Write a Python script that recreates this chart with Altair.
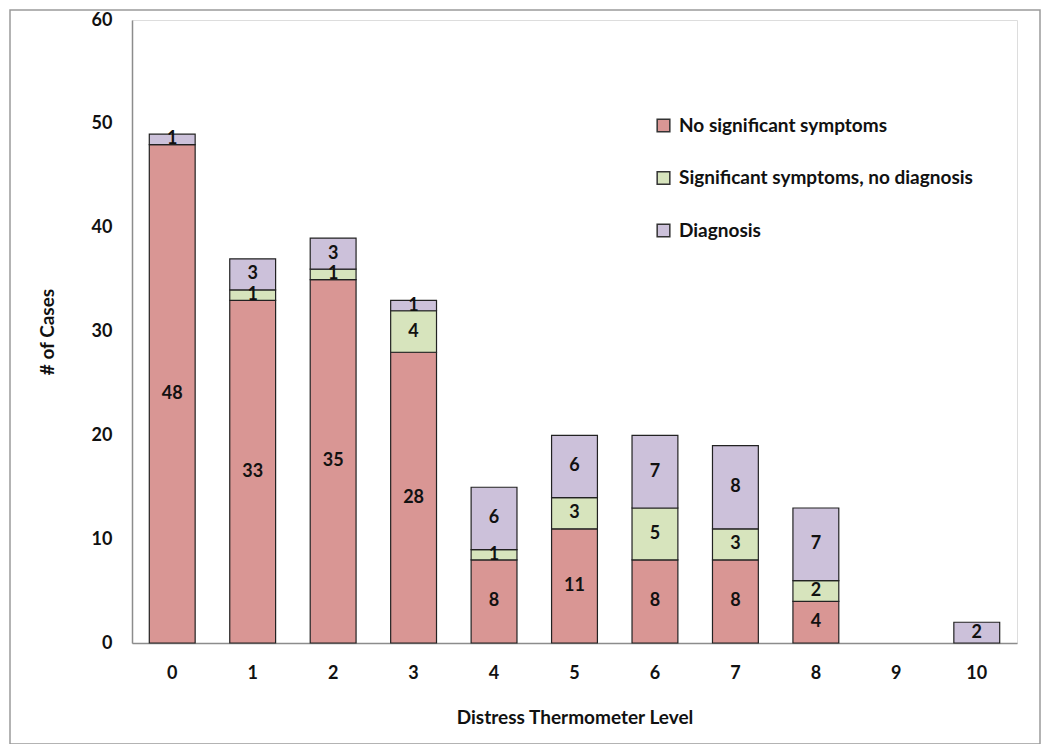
import altair as alt
import pandas as pd

levels = ["0", "1", "2", "3", "4", "5", "6", "7", "8", "9", "10"]
no_sig = [48, 33, 35, 28, 8, 11, 8, 8, 4, 0, 0]
sig_no_diag = [0, 1, 1, 4, 1, 3, 5, 3, 2, 0, 0]
diagnosis = [1, 3, 3, 1, 6, 6, 7, 8, 7, 0, 2]
series = ["No significant symptoms", "Significant symptoms, no diagnosis", "Diagnosis"]
colors = ["#d99694", "#d7e4bd", "#ccc1da"]

rows = []
for i, lv in enumerate(levels):
    for k, (name, vals) in enumerate(zip(series, [no_sig, sig_no_diag, diagnosis])):
        rows.append({"level": lv, "series": name, "order": k, "value": vals[i]})
df = pd.DataFrame(rows)

FONT = "Lato"

x_enc = alt.X("level:N", sort=levels,
              scale=alt.Scale(domain=levels, paddingInner=0.43, paddingOuter=0.215),
              axis=alt.Axis(title="Distress Thermometer Level", labelAngle=0,
                            labelFontSize=18, labelFontWeight="bold", labelColor="#111",
                            labelPadding=21, ticks=False, domainColor="#8c8c8c",
                            domainWidth=1.5, titleFontSize=19, titleFontWeight="bold",
                            titleColor="#111", titlePadding=26, labelFont=FONT, titleFont=FONT))

bars = alt.Chart(df).transform_filter("datum.value > 0").mark_bar(stroke="#222", strokeWidth=1.2).encode(
    x=x_enc,
    y=alt.Y("value:Q", stack="zero",
            scale=alt.Scale(domain=[0, 60]),
            axis=alt.Axis(title="# of Cases", values=[0, 10, 20, 30, 40, 50, 60],
                          grid=False, ticks=False, labelFontSize=18, labelFontWeight="bold",
                          labelColor="#111", labelPadding=20, domainColor="#8c8c8c",
                          domainWidth=1.5, titleFontSize=19, titleFontWeight="bold",
                          titleColor="#111", titlePadding=34, labelFont=FONT, titleFont=FONT)),
    color=alt.Color("series:N", sort=series,
                    scale=alt.Scale(domain=series, range=colors),
                    legend=alt.Legend(title=None, orient="none", legendX=522, legendY=96,
                                      symbolType="square", symbolSize=160,
                                      symbolStrokeColor="#333", symbolStrokeWidth=1.5,
                                      symbolOpacity=1,
                                      labelFontSize=19, labelFontWeight="bold", labelColor="#111",
                                      labelFont=FONT, rowPadding=32.5, labelLimit=400, labelOffset=6)),
    order=alt.Order("order:Q"),
)

labels = alt.Chart(df).transform_filter("datum.value > 0").transform_stack(
    stack="value", groupby=["level"], as_=["y0", "y1"], sort=[alt.SortField("order")]
).transform_calculate(mid="(datum.y0 + datum.y1) / 2").mark_text(
    fontSize=18, fontWeight="bold", color="#111", font=FONT, baseline="middle"
).encode(
    x=alt.X("level:N", sort=levels),
    y=alt.Y("mid:Q"),
    text=alt.Text("value:Q"),
)

frame = alt.Chart(pd.DataFrame({"a": [0]})).mark_rect(
    fill="white", fillOpacity=0, stroke="#9a9a9a", strokeWidth=1.5, strokeOpacity=1
).encode(x=alt.value(-122), x2=alt.value(908), y=alt.value(-10), y2=alt.value(724))

chart = alt.layer(bars, labels, frame).properties(
    width=885, height=623,
    padding={"left": 124, "top": 12, "right": 24, "bottom": 101},
    autosize=alt.AutoSizeParams(type="none"),
).configure_view(stroke=None).configure(background="white")

chart.save("out.html", embed_options={"renderer": "svg", "actions": False})
